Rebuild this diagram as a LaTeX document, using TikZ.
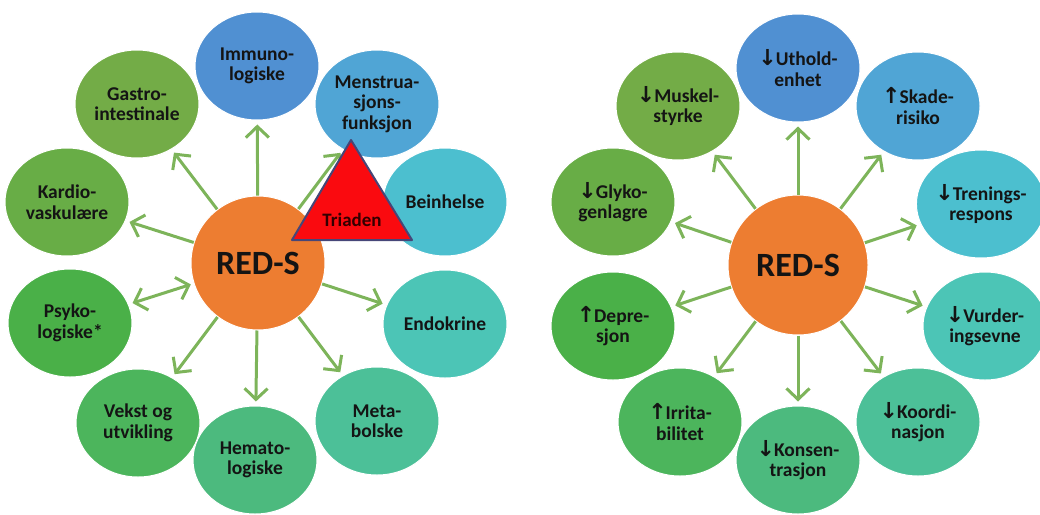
\documentclass[tikz,border=0pt]{standalone}
\usepackage{fontspec}
\setmainfont{Carlito}
\newfontfamily\arrowfont{DejaVu Sans}
\usetikzlibrary{shapes.geometric,arrows.meta}
\definecolor{redsorange}{RGB}{237,125,49}
\definecolor{linkgreen}{RGB}{125,180,90}
\definecolor{triadred}{RGB}{250,10,15}
\definecolor{triadedge}{RGB}{70,70,120}
\definecolor{cgastro}{RGB}{115,172,71}
\definecolor{ckardio}{RGB}{104,173,70}
\definecolor{cpsyko}{RGB}{74,176,72}
\definecolor{cvekst}{RGB}{76,181,92}
\definecolor{chemato}{RGB}{76,186,126}
\definecolor{cmeta}{RGB}{76,192,152}
\definecolor{cendo}{RGB}{76,197,182}
\definecolor{cbein}{RGB}{76,191,207}
\definecolor{cmens}{RGB}{80,165,213}
\definecolor{cimmuno}{RGB}{80,144,210}
\definecolor{inktext}{RGB}{20,20,20}
\newcommand{\arrdown}{{\arrowfont\bfseries\fontsize{22}{20}\selectfont ↓}\kern-1pt}
\newcommand{\arrup}{{\arrowfont\bfseries\fontsize{22}{20}\selectfont ↑}\kern-1pt}

\begin{document}
\begin{tikzpicture}[x=1pt, y=-1pt,
    centre/.style={circle, fill=redsorange, draw=white, line width=1pt, minimum size=134pt,
                   inner sep=0pt, text=inktext, font=\fontsize{34}{36}\selectfont\bfseries},
    bigcentre/.style={centre, minimum size=140pt},
    effect/.style={ellipse, draw=white, line width=1pt, minimum width=124pt, minimum height=108pt,
                   inner sep=0pt, align=center, text=inktext, font=\fontsize{19.5}{20.5}\selectfont\bfseries},
    link/.style={draw=linkgreen, line width=3pt, -{Straight Barb[length=11pt,width=23pt]},
                 shorten >=4pt},
    twoway/.style={link, {Straight Barb[length=11pt,width=23pt]}-{Straight Barb[length=11pt,width=23pt]},
                   shorten <=3pt}
]
    \useasboundingbox (0,0) rectangle (1040,514);

    % left wheel: consequences for health
    \node[centre] (redsL) at (258,263) {RED-S};
    \node[effect, fill=cimmuno] (immuno) at (257,66)  {Immuno-\\logiske};
    \node[effect, fill=cmens]   (mens)   at (377,104) {Menstrua-\\sjons-\\funksjon};
    \node[effect, fill=cbein]   (bein)   at (445,202) {Beinhelse};
    \node[effect, fill=cendo]   (endo)   at (445,324) {Endokrine};
    \node[effect, fill=cmeta]   (meta)   at (377,421) {Meta-\\bolske};
    \node[effect, fill=chemato] (hemato) at (255,460) {Hemato-\\logiske};
    \node[effect, fill=cvekst]  (vekst)  at (138,423) {Vekst og\\utvikling};
    \node[effect, fill=cpsyko]  (psyko)  at (70,323)  {Psyko-\\logiske*};
    \node[effect, fill=ckardio] (kardio) at (67,202)  {Kardio-\\vaskulære};
    \node[effect, fill=cgastro] (gastro) at (137,104) {Gastro-\\intestinale};

    \foreach \to in {immuno,mens,endo,meta,hemato,vekst,kardio,gastro}
        \draw[link] (redsL) -- (\to);
    \draw[twoway] (redsL) -- (psyko);

    % triad on top
    \draw[fill=triadred, draw=triadedge, line width=2pt, line join=round]
        (351,140) -- (412,240) -- (292,240) -- cycle;
    \node[font=\fontsize{19}{20}\selectfont\bfseries, text=black!80!red] (triaden) at (352,220) {Triaden};

    % right wheel: consequences for performance
    \node[bigcentre] (redsR) at (798,265) {RED-S};
    \node[effect, fill=cimmuno] (uthold)   at (798,68)  {\arrdown Uthold-\\enhet};
    \node[effect, fill=cmens]   (skade)    at (918,106) {\arrup Skade-\\risiko};
    \node[effect, fill=cbein]   (trenings) at (981,204) {\arrdown Trenings-\\respons};
    \node[effect, fill=cendo]   (vurder)   at (985,326) {\arrdown Vurder-\\ingsevne};
    \node[effect, fill=cmeta]   (koordi)   at (918,422) {\arrdown Koordi-\\nasjon};
    \node[effect, fill=chemato] (konsen)   at (798,460) {\arrdown Konsen-\\trasjon};
    \node[effect, fill=cvekst]  (irrita)   at (680,422) {\arrup Irrita-\\bilitet};
    \node[effect, fill=cpsyko]  (depre)    at (613,326) {\arrup Depre-\\sjon};
    \node[effect, fill=ckardio] (glyko)    at (613,202) {\arrdown Glyko-\\genlagre};
    \node[effect, fill=cgastro] (muskel)   at (678,106) {\arrdown Muskel-\\styrke};

    \foreach \to in {uthold,skade,trenings,vurder,koordi,konsen,irrita,depre,glyko,muskel}
        \draw[link] (redsR) -- (\to);
\end{tikzpicture}
\end{document}
